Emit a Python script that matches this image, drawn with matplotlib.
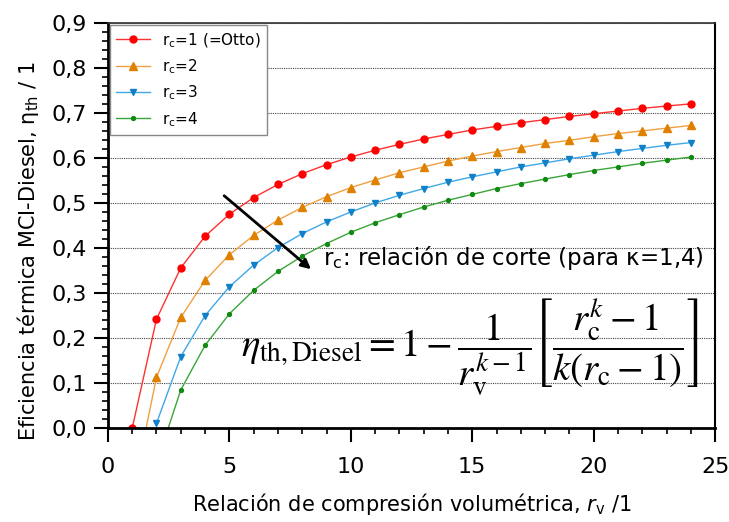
import matplotlib
matplotlib.use("Agg")
import matplotlib.pyplot as plt
from matplotlib.ticker import MultipleLocator

plt.rcParams['font.family'] = ['DejaVu Sans']
plt.rcParams['mathtext.fontset'] = 'dejavusans'

# compression ratio r_v (first entry of rc=2 / rc=4: start of the line at eta = 0, no marker)
rv_otto = [1, 2, 3, 4, 5, 6, 7, 8, 9, 10, 11, 12, 13, 14, 15, 16, 17, 18, 19, 20, 21, 22, 23, 24]
eta_otto = [0.0, 0.242, 0.356, 0.426, 0.475, 0.512, 0.541, 0.565, 0.585, 0.602, 0.617, 0.630,
            0.642, 0.652, 0.662, 0.670, 0.678, 0.685, 0.692, 0.698, 0.704, 0.710, 0.715, 0.720]

rv_rc2 = [1.57, 2, 3, 4, 5, 6, 7, 8, 9, 10, 11, 12, 13, 14, 15, 16, 17, 18, 19, 20, 21, 22, 23, 24]
eta_rc2 = [0.0, 0.113, 0.246, 0.328, 0.385, 0.428, 0.462, 0.490, 0.514, 0.534, 0.551, 0.567,
           0.580, 0.593, 0.604, 0.614, 0.623, 0.632, 0.639, 0.647, 0.654, 0.660, 0.666, 0.672]

rv_rc3 = [2, 3, 4, 5, 6, 7, 8, 9, 10, 11, 12, 13, 14, 15, 16, 17, 18, 19, 20, 21, 22, 23, 24]
eta_rc3 = [0.011, 0.159, 0.250, 0.314, 0.362, 0.401, 0.432, 0.458, 0.480, 0.500, 0.517,
           0.532, 0.546, 0.558, 0.569, 0.580, 0.589, 0.598, 0.606, 0.614, 0.621, 0.628, 0.634]

rv_rc4 = [2.48, 3, 4, 5, 6, 7, 8, 9, 10, 11, 12, 13, 14, 15, 16, 17, 18, 19, 20, 21, 22, 23, 24]
eta_rc4 = [0.0, 0.085, 0.184, 0.254, 0.306, 0.348, 0.382, 0.410, 0.435, 0.456, 0.474,
           0.491, 0.506, 0.519, 0.532, 0.543, 0.553, 0.563, 0.572, 0.580, 0.588, 0.595, 0.602]

labels = [r'r$_\mathregular{c}$=1 (=Otto)', r'r$_\mathregular{c}$=2',
          r'r$_\mathregular{c}$=3', r'r$_\mathregular{c}$=4']

yticks = [0.0, 0.1, 0.2, 0.3, 0.4, 0.5, 0.6, 0.7, 0.8, 0.9]
yticklabels = ['0,0', '0,1', '0,2', '0,3', '0,4', '0,5', '0,6', '0,7', '0,8', '0,9']
xticks = [0, 5, 10, 15, 20, 25]

fig = plt.figure(figsize=(7.29, 5.22), dpi=100)
ax = fig.add_axes([0.148, 0.1795, 0.833, 0.777])

ax.plot(rv_otto, eta_otto, color='#ff3030', lw=1, marker='o', ms=5, mfc='#ff0000', mec='#ff0000',
        label=labels[0])
ax.plot(rv_rc2, eta_rc2, color='#f0a040', lw=1, marker='^', ms=5.5, mfc='#e08000', mec='#e08000',
        markevery=slice(1, None), label=labels[1])
ax.plot(rv_rc3, eta_rc3, color='#40a8e8', lw=1, marker='v', ms=4.5, mfc='#1080c8', mec='#1080c8',
        label=labels[2])
ax.plot(rv_rc4, eta_rc4, color='#3aa63a', lw=1, marker='o', ms=2.8, mfc='#108a10', mec='#108a10',
        markevery=slice(1, None), label=labels[3])

ax.set_xlim(0, 25)
ax.set_ylim(0, 0.9)
ax.set_xticks(xticks)
ax.set_yticks(yticks)
ax.set_yticklabels(yticklabels)
ax.xaxis.set_minor_locator(MultipleLocator(1))
ax.yaxis.set_minor_locator(MultipleLocator(0.02))
ax.tick_params(which='major', direction='out', length=10, width=1.5, labelsize=16)
ax.tick_params(axis='y', which='major', pad=5)
ax.tick_params(axis='x', which='major', pad=11)
ax.tick_params(which='minor', direction='out', length=4.5, width=1.2)
ax.yaxis.grid(True, linestyle=(0, (1, 1)), color='#444444', linewidth=0.8)

ax.spines['left'].set_linewidth(2)
ax.spines['bottom'].set_linewidth(2)
ax.spines['top'].set_linewidth(1.2)
ax.spines['right'].set_linewidth(1.5)
ax.spines['top'].set_color('#333333')

ax.set_xlabel(r'Relación de compresión volumétrica, $\it{r}_\mathregular{v}$ /1', fontsize=15, labelpad=10)
ax.set_ylabel(r'Eficiencia térmica MCI-Diesel, η$_\mathregular{th}$ / 1', fontsize=15)
ax.yaxis.set_label_coords(-0.11, 0.437)

leg = ax.legend(loc='upper left', fontsize=11, handlelength=2.2, borderaxespad=0.15, labelspacing=0.5,
                fancybox=False, edgecolor='#888888', framealpha=1)
leg.get_frame().set_linewidth(1)

ax.annotate('', xy=(8.45, 0.349), xytext=(4.7, 0.52),
            arrowprops=dict(arrowstyle='-|>', lw=2, color='black', mutation_scale=14))
ax.text(8.86, 0.378, r'r$_\mathregular{c}$: relación de corte (para κ=1,4)', fontsize=16.5, va='center')

formula = (r'$\eta_{\mathrm{th,Diesel}} = 1 - \dfrac{1}{r_{\mathrm{v}}^{k-1}}'
           r'\left[\dfrac{r_{\mathrm{c}}^{k}-1}{k\left(r_{\mathrm{c}}-1\right)}\right]$')
ax.text(14.9, 0.18, formula, fontsize=28, ha='center', va='center', math_fontfamily='stix')

fig.savefig('out.png', dpi=100)
